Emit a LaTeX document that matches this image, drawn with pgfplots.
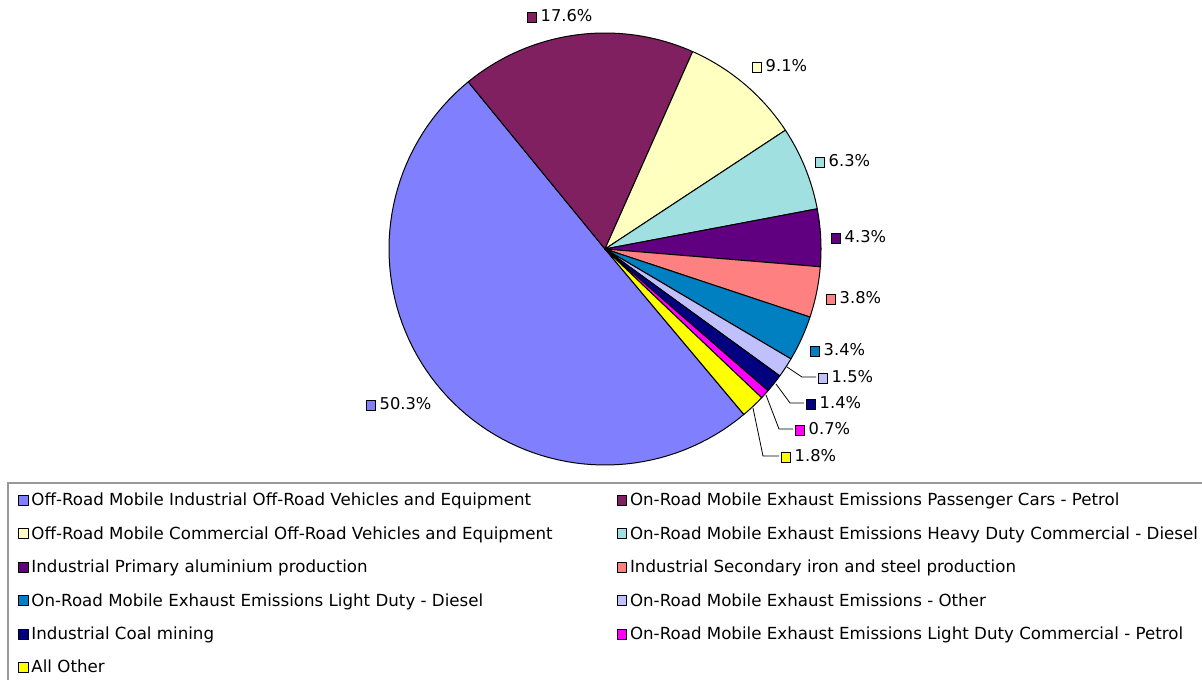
\documentclass[border=0pt]{standalone}
\usepackage{pgfplots}
\pgfplotsset{compat=1.18}
\usepackage{pgfplotstable}
\usepackage{fontspec}
\setmainfont{DejaVu Sans}

\definecolor{cA}{HTML}{8080FF}
\definecolor{cB}{HTML}{802060}
\definecolor{cC}{HTML}{FFFFC0}
\definecolor{cD}{HTML}{A0E0E0}
\definecolor{cE}{HTML}{600080}
\definecolor{cF}{HTML}{FF8080}
\definecolor{cG}{HTML}{0080C0}
\definecolor{cH}{HTML}{C0C0FF}
\definecolor{cI}{HTML}{000080}
\definecolor{cJ}{HTML}{FF00FF}
\definecolor{cK}{HTML}{FFFF00}

% share of each source, in legend order
\pgfplotstableread[col sep=comma]{
pct,color
50.3,cA
17.6,cB
9.1,cC
6.3,cD
4.3,cE
3.8,cF
3.4,cG
1.5,cH
1.4,cI
0.7,cJ
1.8,cK
}\piedata

\newcommand{\sq}[1]{{\setlength\fboxrule{0.7pt}\setlength\fboxsep{0pt}%
  \fcolorbox{black}{#1}{\rule{0pt}{6.2pt}\hspace{6.2pt}}}\hspace{2.5pt}}

\begin{document}
\begin{tikzpicture}
\begin{axis}[
  scale only axis, width=901.5pt, height=509.25pt,
  at={(0,0)}, anchor=south west,
  xmin=0, xmax=1202, ymin=0, ymax=679,
  hide axis, clip=false,
  legend entries={
    Off-Road Mobile Industrial Off-Road Vehicles and Equipment,
    On-Road Mobile Exhaust Emissions Passenger Cars - Petrol,
    Off-Road Mobile Commercial Off-Road Vehicles and Equipment,
    On-Road Mobile Exhaust Emissions Heavy Duty Commercial - Diesel,
    Industrial Primary aluminium production,
    Industrial Secondary iron and steel production,
    On-Road Mobile Exhaust Emissions Light Duty - Diesel,
    On-Road Mobile Exhaust Emissions - Other,
    Industrial Coal mining,
    On-Road Mobile Exhaust Emissions Light Duty Commercial - Petrol,
    All Other},
  legend columns=2,
  legend cell align=left,
  legend style={at={(8/1202,196/679)}, anchor=north west,
    draw=none, fill=none,
    font=\fontsize{12.5}{14}\selectfont,
    inner xsep=7.3pt, inner ysep=5.3pt, row sep=10.1pt,
    /tikz/every odd column/.append style={column sep=0pt},
    /tikz/every even column/.append style={column sep=46pt}},
  legend image code/.code={\draw[#1, draw=black, line width=0.7pt]
     (0pt,-3.7pt) rectangle (7.4pt,3.7pt);},
]
\pgfplotstablegetrowsof{\piedata}
\pgfmathtruncatemacro\nrows{\pgfplotsretval-1}
\def\angstart{-50}
\pgfplotsforeachungrouped \i in {0,...,\nrows}{
  \pgfplotstablegetelem{\i}{pct}\of\piedata \let\p\pgfplotsretval
  \pgfplotstablegetelem{\i}{color}\of\piedata \let\c\pgfplotsretval
  % 100.2 is the total of the rounded shares
  \pgfmathsetmacro\angend{\angstart-\p*(3.6/1.002)}
  \edef\temp{\noexpand\addplot[draw=black, line width=0.75pt, line join=round,
      fill=\c, domain=\angend:\angstart, samples=80]
      ({605+216*cos(x)},{430+216*sin(x)}) -- (605,430) -- cycle;}
  \temp
  \global\let\angstart\angend
}
% legend frame, runs past the right and bottom edges
\draw[gray!80, line width=0.8pt] (8,196) rectangle (1220,-20);
% data labels
\begin{scope}[every node/.style={anchor=west, inner sep=0pt,
    font=\fontsize{12.2}{14}\selectfont}]
\node at (527,663) {\sq{cB}17.6\%};
\node at (752,613) {\sq{cC}9.1\%};
\node at (815,518) {\sq{cD}6.3\%};
\node at (831,442) {\sq{cE}4.3\%};
\node at (826,381) {\sq{cF}3.8\%};
\node at (810,329) {\sq{cG}3.4\%};
\node at (818,302) {\sq{cH}1.5\%};
\node at (806,276) {\sq{cI}1.4\%};
\node at (795,250) {\sq{cJ}0.7\%};
\node at (781,223) {\sq{cK}1.8\%};
\node at (366,275) {\sq{cA}50.3\%};
\end{scope}
\draw[black, line width=0.6pt] (787,312) -- (802,302) -- (816,302);
\draw[black, line width=0.6pt] (776,295) -- (790,276) -- (804,276);
\draw[black, line width=0.6pt] (766,284) -- (779,250) -- (793,250);
\draw[black, line width=0.6pt] (753,271) -- (763,223) -- (779,223);
\end{axis}
\pgfresetboundingbox
\path[use as bounding box] (0,0) rectangle (901.5pt,509.25pt);
\end{tikzpicture}
\end{document}
